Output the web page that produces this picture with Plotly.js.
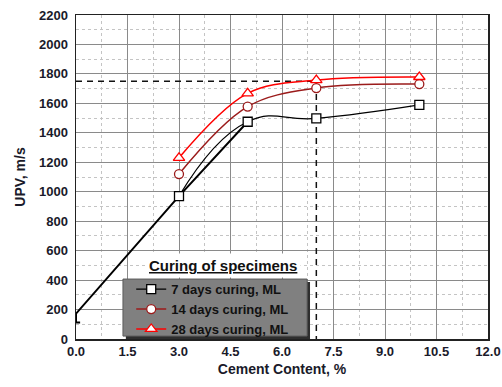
<!DOCTYPE html>
<html>
<head>
<meta charset="utf-8">
<script src="https://cdn.plot.ly/plotly-3.0.1.min.js"></script>
<style>html,body{margin:0;padding:0;background:#fff;}#chart{width:502px;height:387px;}</style>
</head>
<body>
<div id="chart"></div>
<script>
// Data
const cement = [3, 5, 7, 10];
const upv7 = [970, 1475, 1498, 1590];
const upv14 = [1120, 1578, 1704, 1731];
const upv28 = [1230, 1668, 1758, 1779];
const trendX = [0.12, 0, 0, 3, 5];
const trendY = [112, 112, 172, 970, 1475];
const guideX = [0, 7, 7];
const guideY = [1750, 1750, 0];
const seriesNames = ['7 days curing, ML', '14 days curing, ML', '28 days curing, ML'];

const traces = [
  {x: trendX, y: trendY, mode: 'lines', line: {color: '#000', width: 2}, showlegend: false, hoverinfo: 'skip'},
  {x: guideX, y: guideY, mode: 'lines', line: {color: '#111', width: 1.5, dash: '6px,5px'}, showlegend: false, hoverinfo: 'skip'},
  {x: cement, y: upv7, name: seriesNames[0], mode: 'lines+markers',
   line: {color: '#000', width: 1.2, shape: 'spline', smoothing: 1.3},
   marker: {symbol: 'square', size: 9, color: '#fff', line: {color: '#000', width: 1.3}}},
  {x: cement, y: upv14, name: seriesNames[1], mode: 'lines+markers',
   line: {color: '#9b1b1b', width: 1.5, shape: 'spline', smoothing: 1.0},
   marker: {symbol: 'circle', size: 9, color: '#fff', line: {color: '#9b1b1b', width: 1.3}}},
  {x: cement, y: upv28, name: seriesNames[2], mode: 'lines+markers',
   line: {color: '#ff0000', width: 1.5, shape: 'spline', smoothing: 1.0},
   marker: {symbol: 'triangle-up', size: 10, color: '#fff', line: {color: '#ff0000', width: 1.3}}}
];

const tickFont = {family: 'Arial, Liberation Sans, sans-serif', size: 13, color: '#1a1a2a', weight: 'bold'};

const layout = {
  width: 502, height: 387,
  margin: {l: 76, r: 14, t: 15, b: 48},
  paper_bgcolor: '#fff', plot_bgcolor: '#fff',
  font: {family: 'Arial, Liberation Sans, sans-serif'},
  xaxis: {
    range: [0, 12], dtick: 1.5, tick0: 0, tickformat: '.1f',
    showgrid: true, gridcolor: '#8a8a8a', gridwidth: 1,
    minor: {dtick: 0.75, showgrid: true, gridcolor: '#c4c4c4', griddash: 'dot', gridwidth: 1},
    showline: true, mirror: true, linecolor: '#222', linewidth: 1.5,
    ticks: '', tickfont: tickFont, zeroline: false,
    title: {text: 'Cement Content, %', font: {size: 14, color: '#1a1a2a', weight: 'bold'}, standoff: 6}
  },
  yaxis: {
    range: [0, 2200], dtick: 200, tick0: 0,
    showgrid: true, gridcolor: '#8a8a8a', gridwidth: 1,
    minor: {dtick: 100, showgrid: true, gridcolor: '#c4c4c4', griddash: 'dot', gridwidth: 1},
    showline: true, mirror: true, linecolor: '#222', linewidth: 1.5,
    ticks: '', tickfont: tickFont, zeroline: false, ticklabelstandoff: 4,
    title: {text: 'UPV, m/s', font: {size: 14, color: '#1a1a2a', weight: 'bold'}, standoff: 10}
  },
  showlegend: true,
  legend: {
    x: 0.134, y: 0.2, xanchor: 'left', yanchor: 'top',
    bgcolor: 'rgba(0,0,0,0)', borderwidth: 0,
    font: {size: 13, color: '#111', weight: 'bold'},
    tracegroupgap: 0, itemwidth: 30
  },
  shapes: [
    {type: 'rect', xref: 'paper', yref: 'paper', x0: 0.121, x1: 0.568, y0: 0.0, y1: 0.176,
     fillcolor: '#2e2e2e', line: {width: 0}, layer: 'above'},
    {type: 'rect', xref: 'paper', yref: 'paper', x0: 0.114, x1: 0.561, y0: 0.009, y1: 0.185,
     fillcolor: '#808080', line: {color: '#5a5a5a', width: 1}, layer: 'above'}
  ],
  annotations: [
    {text: '<u>Curing of specimens</u>', xref: 'paper', yref: 'paper', x: 0.357, y: 0.228,
     xanchor: 'center', yanchor: 'middle', showarrow: false, bgcolor: '#fff',
     font: {size: 15, color: '#111', weight: 'bold'}, borderpad: 3}
  ]
};

Plotly.newPlot('chart', traces, layout, {displayModeBar: false, staticPlot: true});
</script>
</body>
</html>
